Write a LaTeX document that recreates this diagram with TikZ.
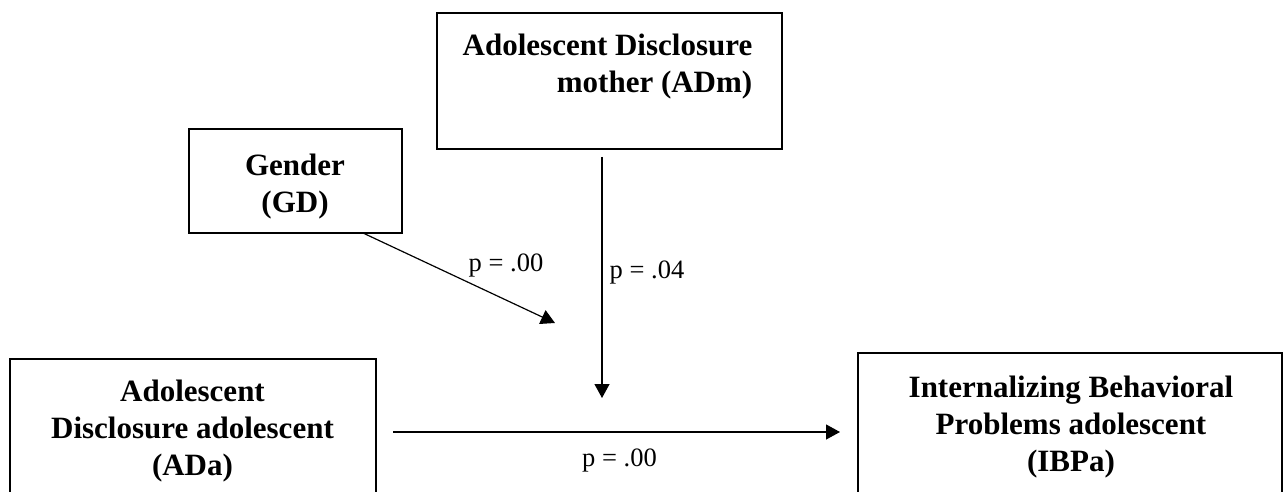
\documentclass[tikz,border=0pt]{standalone}
\usepackage{fontspec}
\setmainfont{Liberation Serif}
\usetikzlibrary{arrows.meta,calc}
\begin{document}
\begin{tikzpicture}[x=1pt,y=-1pt,
  box/.style={draw=black,line width=2.6pt,rectangle,outer sep=0pt,inner sep=0pt},
  boxtext/.style={inner sep=0pt,outer sep=0pt,font=\fontsize{31}{37}\selectfont\bfseries},
  lab/.style={inner sep=0pt,outer sep=0pt,font=\fontsize{26.5}{30}\selectfont},
  conn/.style={draw=black,line width=1.2pt,-{Triangle[length=14pt,width=15pt]}}]
\useasboundingbox (0,0) rectangle (1285,492);
\clip (0,0) rectangle (1285,492);
% boxes
\node[box,minimum width=345pt,minimum height=136pt] (adm) at (609.5,81) {};
\node[boxtext,align=right] (admt) at (607.5,66.5) {Adolescent Disclosure\\mother (ADm)};
\node[box,minimum width=213pt,minimum height=104pt] (gd) at (295.5,181) {};
\node[boxtext,align=center] (gdt) at (295,187) {Gender\\(GD)};
\node[box,minimum width=366pt,minimum height=181pt] (ada) at (193,449.5) {};
\node[boxtext,align=center] (adat) at (192.5,431.5) {Adolescent\\Disclosure adolescent\\(ADa)};
\node[box,minimum width=424pt,minimum height=187pt] (ibp) at (1070,446.5) {};
\node[boxtext,align=center] (ibpt) at (1071,427.5) {Internalizing Behavioral\\Problems adolescent\\(IBPa)};
% connectors
\coordinate (gdtip) at (555,323);
\coordinate (admtip) at (602,398);
\draw[conn] ($(gd.south east)+(-39,0)$) -- (gdtip);
\draw[conn] ($(adm.south)+(-7.5,8)$) -- (admtip);
\draw[conn] ($(ada.east |- 0,432)+(17,0)$) -- ($(ibp.west |- 0,432)+(-18,0)$);
% labels
\node[lab,anchor=base] (p1) at (506,271) {p = .00};
\node[lab,anchor=base] (p2) at (647,278) {p = .04};
\node[lab,anchor=base] (p3) at (619.5,466) {p = .00};
\end{tikzpicture}
\end{document}
